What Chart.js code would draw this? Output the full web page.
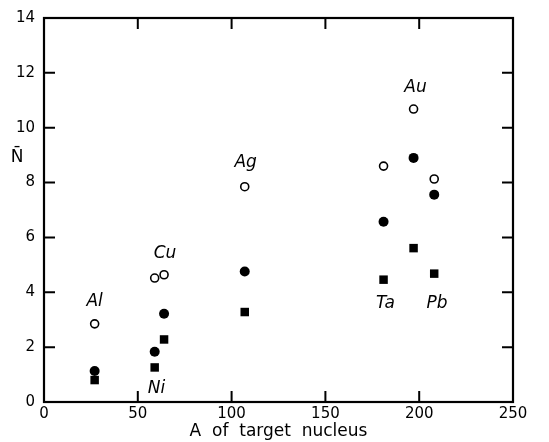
<!DOCTYPE html>
<html>
<head>
<meta charset="utf-8">
<script src="https://cdn.jsdelivr.net/npm/chart.js@4/dist/chart.umd.min.js"></script>
<style>
html,body{margin:0;padding:0;background:#fff;}
#wrap{width:549px;height:442px;}
</style>
</head>
<body>
<div id="wrap"><canvas id="nChart" width="549" height="442"></canvas></div>
<script>
// target nuclei and mean multiplicity
const elements=['Al','Ni','Cu','Ag','Ta','Au','Pb'];
const massA=[27, 59, 64, 107, 181, 197, 208];
const openN=[2.85, 4.52, 4.64, 7.85, 8.6, 10.68, 8.13];
const filledN=[1.13, 1.83, 3.22, 4.76, 6.57, 8.9, 7.56];
const squareN=[0.8, 1.26, 2.28, 3.28, 4.46, 5.61, 4.68];
// where the element names sit (data coords)
const labelA=[27, 60, 64.5, 107.5, 182, 198, 209.5];
const labelN=[3.65, 0.5, 5.42, 8.73, 3.6, 11.45, 3.6];

const xTicks=[0,50,100,150,200,250];
const yTicks=[0,2,4,6,8,10,12,14];

function pts(ys){
    return massA.map((a,i)=>({x:a,y:ys[i]}));
}

// frame + inward ticks + names
const framePlugin={
    id:'frame',
    afterDatasetsDraw(chart){
        const c=chart.ctx, a=chart.chartArea;
        const xs=chart.scales.x, ys=chart.scales.y;
        c.save();
        c.strokeStyle='#000';
        c.lineWidth=2.2;
        c.strokeRect(a.left,a.top,a.right-a.left,a.bottom-a.top);
        c.lineWidth=2;
        const tl=11;
        xTicks.slice(1,-1).forEach(v=>{
            const px=xs.getPixelForValue(v);
            c.beginPath();
            c.moveTo(px,a.bottom);c.lineTo(px,a.bottom-tl);
            c.moveTo(px,a.top);c.lineTo(px,a.top+tl);
            c.stroke();
        });
        yTicks.slice(1,-1).forEach(v=>{
            const py=ys.getPixelForValue(v);
            c.beginPath();
            c.moveTo(a.left,py);c.lineTo(a.left+tl,py);
            c.moveTo(a.right,py);c.lineTo(a.right-tl,py);
            c.stroke();
        });
        c.fillStyle='#000';
        c.font='italic 17px "DejaVu Sans", sans-serif';
        c.textAlign='center';
        c.textBaseline='middle';
        elements.forEach((e,i)=>{
            c.fillText(e, xs.getPixelForValue(labelA[i]), ys.getPixelForValue(labelN[i]));
        });
        // y title, upright
        c.font='17px "DejaVu Sans", sans-serif';
        c.fillText('N\u0304', 17, ys.getPixelForValue(8.9));
        c.restore();
    }
};

const ctx=document.getElementById('nChart').getContext('2d');
new Chart(ctx,{
    type:'scatter',
    data:{
        datasets:[
            {
                label:'open',
                data:pts(openN),
                pointStyle:'circle',
                pointRadius:4,
                pointBorderWidth:1.6,
                pointBorderColor:'#000',
                pointBackgroundColor:'#fff'
            },
            {
                label:'filled',
                data:pts(filledN),
                pointStyle:'circle',
                pointRadius:5,
                pointBorderWidth:0,
                pointBackgroundColor:'#000'
            },
            {
                label:'square',
                data:pts(squareN),
                pointStyle:'rect',
                pointRadius:6,
                pointBorderWidth:0,
                pointBackgroundColor:'#000'
            }
        ]
    },
    options:{
        responsive:false,
        animation:false,
        layout:{padding:{top:17,right:36,left:0,bottom:0}},
        plugins:{legend:{display:false},tooltip:{enabled:false}},
        scales:{
            x:{
                type:'linear',
                min:0,max:250,
                afterBuildTicks(s){s.ticks=xTicks.map(v=>({value:v}));},
                afterFit(s){s.height=40;},
                grid:{display:false,drawTicks:false},
                border:{display:false},
                ticks:{color:'#000',font:{family:'"DejaVu Sans", sans-serif',size:15},padding:3,maxRotation:0},
                title:{display:true,text:'A  of  target  nucleus',color:'#000',font:{family:'"DejaVu Sans", sans-serif',size:17},padding:{top:0,bottom:0}}
            },
            y:{
                type:'linear',
                min:0,max:14,
                afterBuildTicks(s){s.ticks=yTicks.map(v=>({value:v}));},
                afterFit(s){s.width=44;},
                grid:{display:false,drawTicks:false},
                border:{display:false},
                ticks:{color:'#000',font:{family:'"DejaVu Sans", sans-serif',size:15},padding:9}
            }
        }
    },
    plugins:[framePlugin]
});
</script>
</body>
</html>
